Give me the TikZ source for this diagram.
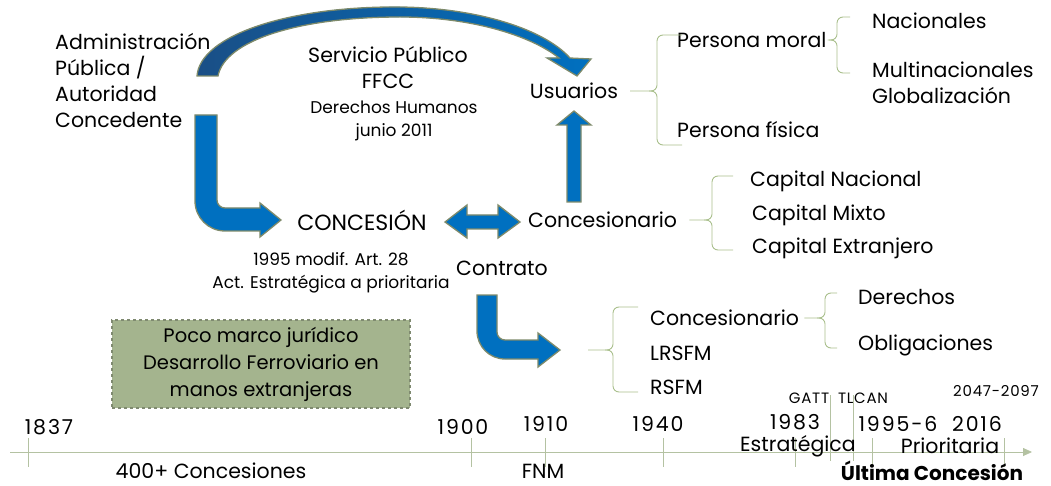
\documentclass[tikz,border=0pt]{standalone}
\usepackage{fontspec}
\setmainfont{Poppins}
\usetikzlibrary{arrows.meta}

\definecolor{azul}{HTML}{0070C0}
\definecolor{azuloscuro}{HTML}{1A4F86}
\definecolor{bordeflecha}{HTML}{7E8A6A}
\definecolor{llavecolor}{HTML}{A9BF8C}
\definecolor{cajaverde}{HTML}{A4B48E}
\definecolor{cajaborde}{HTML}{7F8A70}
\definecolor{ejecolor}{HTML}{B4C2A2}

\tikzstyle{texto}=[inner sep=0pt,font=\fontsize{20.5}{26}\selectfont]
\tikzstyle{izq}=[texto,anchor=west,align=left]
\tikzstyle{chico}=[inner sep=0pt,font=\fontsize{17}{23}\selectfont]
\tikzstyle{mini}=[inner sep=0pt,font=\fontsize{15}{17}\selectfont\addfontfeature{LetterSpace=5}]
\tikzstyle{anio}=[inner sep=0pt,font=\fontsize{20.5}{24}\selectfont\addfontfeature{LetterSpace=9}]
\tikzstyle{flecha}=[fill=azul,draw=bordeflecha,line width=1.3pt,line join=miter]
\tikzstyle{llave}=[draw=llavecolor,line width=0.9pt,rounded corners=6pt]
\tikzstyle{marca}=[draw=ejecolor,line width=0.8pt]
\tikzstyle{caja}=[fill=cajaverde,draw=cajaborde,dashed,line width=1.2pt,
    minimum width=298pt,minimum height=88pt,align=center,
    font=\fontsize{19.5}{27}\selectfont]
\newcommand{\llave}[6][0]{
    \coordinate (lv) at (#3,0);
    \coordinate (lt) at (#2 -| lv);
    \draw[llave] ([xshift=#1pt]#2) -- (lt) -- (#3,#4) -- (#6,#4);
    \draw[llave] ([xshift=-8pt]lt) -- (lt) -- (#3,#5) -- (#6,#5);
}

\begin{document}
\begin{tikzpicture}[x=1pt,y=-1pt]
    \useasboundingbox (0,0) rectangle (1051,486);

    \path[flecha,left color=azuloscuro,right color=azul]
        (197,76) .. controls (200,35) and (290,6) .. (400,7)
        .. controls (480,8) and (545,30) .. (570,58)
        -- (591,59) -- (577,76) -- (547,58) -- (559,58)
        .. controls (530,35) and (470,17) .. (400,17)
        .. controls (300,17) and (225,40) .. (218,76) -- cycle;
    \path[flecha] (195,115) -- (217,115) -- (217,200)
        .. controls (217,204.4) and (220.6,208) .. (225,208) -- (260,208)
        -- (260,203) -- (281,220) -- (260,237) -- (260,231) -- (225,231)
        .. controls (208.4,231) and (195,217.6) .. (195,201) -- cycle;
    \path[flecha] (567,202) -- (567,125) -- (557,125) -- (574,111)
        -- (591,125) -- (581,125) -- (581,202) -- cycle;
    \path[flecha] (445,222) -- (467,205) -- (467,215) -- (498,215)
        -- (498,205) -- (520,222) -- (498,238) -- (498,229) -- (467,229)
        -- (467,238) -- cycle;
    \path[flecha] (477,295) -- (497,295) -- (497,332)
        .. controls (497,336.4) and (500.6,340) .. (505,340) -- (538,340)
        -- (538,333) -- (560,350) -- (538,367) -- (538,359) -- (505,359)
        .. controls (489.5,359) and (477,346.5) .. (477,331) -- cycle;
    \coordinate (punta) at (560,350);

    \node[izq] (admin) at (55,81) {Administración\\Pública /\\Autoridad\\Concedente};
    \node[texto,align=center] (servicio) at (388,68) {Servicio Público\\FFCC};
    \node[chico,align=center] (ddhh) at (394,121) {Derechos Humanos\\junio 2011};
    \node[texto] (usuarios) at (574,91) {Usuarios};
    \node[texto,font=\fontsize{22}{26}\selectfont] (concesion) at (362,220) {CONCESIÓN};
    \node[izq] (concesionario) at (528,220) {Concesionario};
    \node[chico,align=center] (reforma) at (331,273) {1995 modif. Art. 28\\Act. Estratégica a prioritaria};
    \node[texto] (contrato) at (502,268) {Contrato};

    \node[izq] (moral) at (677,40) {Persona moral};
    \node[izq] (fisica) at (677,130) {Persona física};
    \node[izq] (nacionales) at (872,21) {Nacionales};
    \node[izq] (multi) at (872,83) {Multinacionales\\Globalización};
    \node[izq] (capnac) at (750,181) {Capital Nacional};
    \node[izq] (capmix) at (752,215) {Capital Mixto};
    \node[izq] (capext) at (752,248) {Capital Extranjero};
    \node[izq] (titular) at (650,318) {Concesionario};
    \node[izq] (lrsfm) at (650,353) {LRSFM};
    \node[izq] (rsfm) at (650,387) {RSFM};
    \node[izq] (derechos) at (858,297) {Derechos};
    \node[izq] (obligaciones) at (858,345) {Obligaciones};

    \llave[12]{usuarios.east}{657}{35}{145}{682}
    \llave[1]{moral.east}{837}{17}{73}{850}
    \llave[12]{concesionario.east}{712}{176}{250}{733}
    \llave[5]{titular.east}{825}{293}{348}{837}
    \llave[28]{punta}{613}{307}{392}{638}

    \node[caja] (marco) at (261,364) {Poco marco jurídico\\Desarrollo Ferroviario en\\manos extranjeras};

    \coordinate (inicio) at (10,452);
    \coordinate (fin) at (1032,452);
    \draw[marca,-{Triangle[width=8pt,length=9pt]}] (inicio) -- (fin);
    \foreach \x in {28,471,545,663,795,872,1004}
        \draw[marca] (\x,438) -- (\x,467);
    \foreach \x in {830,853}
        \draw[marca] (\x,395) -- (\x,461);

    \node[anio] (a1837) at (49,427) {1837};
    \node[anio] (a1900) at (463,427) {1900};
    \node[anio] (a1910) at (546,424) {1910};
    \node[anio] (a1940) at (658,424) {1940};
    \node[anio] (a1983) at (795,422) {1983};
    \node[anio] (a1995) at (898,424) {1995-6};
    \node[anio] (a2016) at (977,424) {2016};
    \node[mini] (gatt) at (809,398) {GATT};
    \node[mini] (tlcan) at (863,398) {TLCAN};
    \node[mini] (a2047) at (996,391) {2047-2097};
    \node[texto] (estrategica) at (798,446) {Estratégica};
    \node[texto] (prioritaria) at (950,446) {Prioritaria};
    \node[texto] (concesiones) at (211,471) {400+ Concesiones};
    \node[texto] (fnm) at (543,471) {FNM};
    \node[texto,font=\fontsize{20}{26}\bfseries] (ultima) at (932,471) {Última Concesión};
\end{tikzpicture}
\end{document}
